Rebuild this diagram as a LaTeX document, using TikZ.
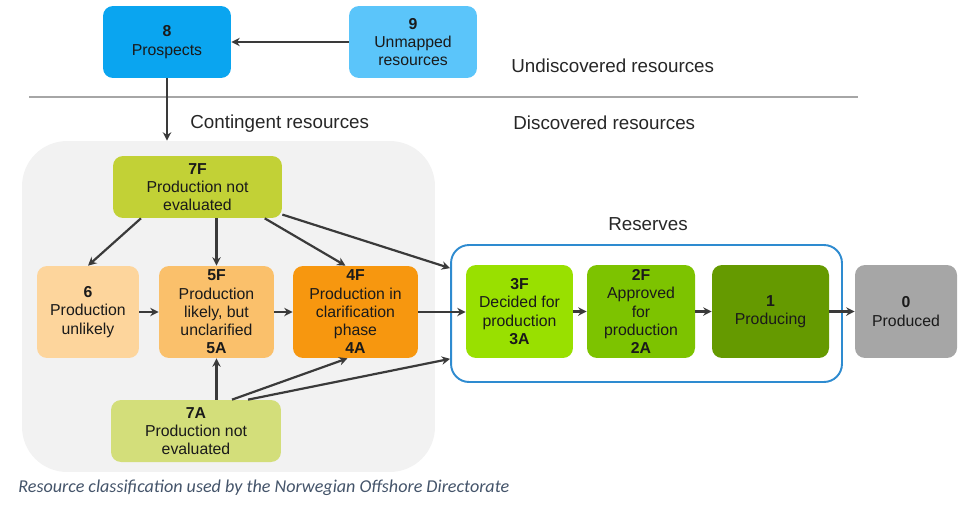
\documentclass[tikz,border=0pt]{standalone}
\usepackage{fontspec}
\setmainfont{Liberation Sans}
\newfontfamily\capfont{Carlito}
\usepackage{tikz}
\usetikzlibrary{arrows.meta,calc}
\usepackage{xcolor}

\definecolor{prosblue}{HTML}{0AA5F0}
\definecolor{mapblue}{HTML}{5BC5FA}
\definecolor{sevenf}{HTML}{C2D136}
\definecolor{sixc}{HTML}{FDD59C}
\definecolor{fivef}{HTML}{FAC06B}
\definecolor{fourf}{HTML}{F7970F}
\definecolor{sevena}{HTML}{D3DE7A}
\definecolor{threef}{HTML}{99E000}
\definecolor{twof}{HTML}{7DC300}
\definecolor{onec}{HTML}{659A00}
\definecolor{zeroc}{HTML}{A6A6A6}
\definecolor{contgray}{HTML}{F2F2F2}
\definecolor{resblue}{HTML}{2E8BD0}
\definecolor{arrowgray}{HTML}{3A3A3A}
\definecolor{sepgray}{HTML}{A6A6A6}
\definecolor{captext}{HTML}{44546A}
\definecolor{boxtext}{HTML}{1A1A1A}
\definecolor{headtext}{HTML}{262626}

\begin{document}
\begin{tikzpicture}[
            x = 0.02cm, y = -0.02cm, % one unit is one pixel
            > = {Stealth[length=4.8pt,width=4.8pt]}, % arrow head style
            link/.style = {->, draw = arrowgray, line width = 1.25pt},
            head/.style = {font = \fontsize{10.7}{12}\selectfont, text = headtext, anchor = west, inner sep = 0pt, text depth = 0pt}
        ]

        \tikzstyle{box}=[
            rectangle,
            rounded corners = 0.2cm,
            align = center,
            inner sep = 0pt,
            text = boxtext,
            font = \fontsize{9}{10.4}\selectfont
        ]

        \useasboundingbox (0,0) rectangle (959,507);

        % areas
        \node[fill=contgray, rounded corners=0.9cm, minimum width=8.26cm, minimum height=6.62cm] (cont) at (228.5,306.5) {};
        \node[draw=resblue, line width=1.1pt, rounded corners=0.36cm, minimum width=7.82cm, minimum height=2.74cm] (res) at (646.5,313.5) {};
        \draw[sepgray, line width=1.1pt] (29,97) -- (858,97);

        % labels
        \node[head] (undisc) at (511,66) {Undiscovered resources};
        \node[head] (contlab) at (190,122) {Contingent resources};
        \node[head] (disc) at (513,123) {Discovered resources};
        \node[head, anchor=center] (reslab) at (648,224) {Reserves};
        \node[anchor=west, inner sep=0pt, text=captext, font=\capfont\itshape\fontsize{10.3}{12}\selectfont] (cap) at (18,488) {Resource classification used by the Norwegian Offshore Directorate};

        % classes
        \node[box, fill=prosblue, minimum width=2.56cm, minimum height=1.44cm] (p8) at (167,42) {\textbf{8}\\Prospects};
        \node[box, fill=mapblue, minimum width=2.56cm, minimum height=1.44cm] (p9) at (413,42) {\textbf{9}\\Unmapped\\resources};
        \node[box, fill=sevenf, minimum width=3.38cm, minimum height=1.24cm] (f7) at (197.5,187) {\textbf{7F}\\Production not\\evaluated};
        \node[box, fill=sixc, minimum width=2.04cm, minimum height=1.84cm] (c6) at (88,312) {\textbf{6}\\Production\\unlikely};
        \node[box, fill=fivef, minimum width=2.30cm, minimum height=1.84cm] (f5) at (216.5,312) {\textbf{5F}\\Production\\likely, but\\unclarified\\\textbf{5A}};
        \node[box, fill=fourf, minimum width=2.50cm, minimum height=1.84cm] (f4) at (355.5,312) {\textbf{4F}\\Production in\\clarification\\phase\\\textbf{4A}};
        \node[box, fill=sevena, minimum width=3.40cm, minimum height=1.24cm] (a7) at (196,431) {\textbf{7A}\\Production not\\evaluated};
        \node[box, fill=threef, minimum width=2.14cm, minimum height=1.86cm] (r3) at (519.5,311.5) {\textbf{3F}\\Decided for\\production\\\textbf{3A}};
        \node[box, fill=twof, minimum width=2.16cm, minimum height=1.86cm] (r2) at (641,311.5) {\textbf{2F}\\Approved\\for\\production\\\textbf{2A}};
        \node[box, fill=onec, minimum width=2.34cm, minimum height=1.86cm] (r1) at (770.5,311.5) {\textbf{1}\\Producing};
        \node[box, fill=zeroc, minimum width=2.04cm, minimum height=1.86cm] (r0) at (906,311.5) {\textbf{0}\\Produced};

        % links
        \draw[link] (p9) -- (p8);
        \draw[link] (p8) -- (p8 |- cont.north);
        \draw[link] (f7.209.6) -- (c6.north);
        \draw[link] (f7.south -| f5) -- (f5.north);
        \draw[link] (f7.-25) -- ($(f4.north)+(-10,0)$);
        \draw[link] (f7.-18) -- (res.167);
        \draw[link] (c6) -- (f5);
        \draw[link] (f5) -- (f4);
        \draw[link] (f4.east) -- (f4.east -| r3.west);
        \draw[link] (r3) -- (r2);
        \draw[link] (r2) -- (r1);
        \draw[link] (r1) -- (r0);
        \draw[link] (a7.north -| f5) -- (f5.south);
        \draw[link] ($(a7.north)+(36,0)$) -- ($(f4.south)+(-8,0)$);
        \draw[link] ($(a7.north)+(52,0)$) -- (res.193);
    \end{tikzpicture}
\end{document}
